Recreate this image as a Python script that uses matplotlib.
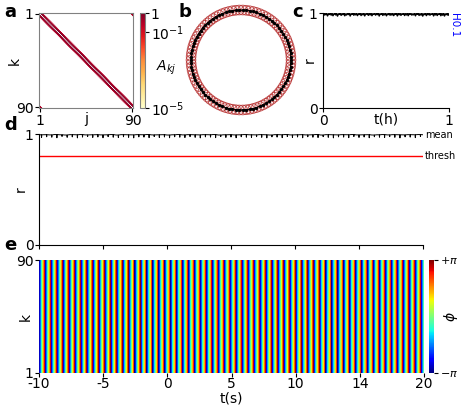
import numpy as np
import matplotlib
matplotlib.use('Agg')
import matplotlib.pyplot as plt
from matplotlib.colors import LogNorm

plt.rcParams['font.family'] = ['DejaVu Sans']
plt.rcParams['font.size'] = 10

# --- data ---
n_nodes = 90
coupling_offsets = [1, 2, 3]       # ring coupling, neighbours on each side
coupling_weights = [1.0, 0.6, 0.25]
thresh = 0.8
stripe_freq_hz = 2.15              # phase stripes in panel e
t_span_s = [-10, 20]
t_ticks = [-10, -5, 0, 5, 10, 15, 20]
t_ticklabels = ['-10', '-5', '0', '5', '10', '14', '20']

r_hours = [0.99, 0.975, 0.998, 0.982, 0.995, 0.970, 0.992, 0.985, 1.000, 0.978,
           0.996, 0.972, 0.989, 0.999, 0.980, 0.994, 0.968, 0.991, 0.986, 0.997,
           0.976, 0.993, 0.983, 1.000, 0.971, 0.990, 0.979, 0.998, 0.984, 0.995,
           0.969, 0.992, 0.987, 0.999, 0.977, 0.994, 0.981, 0.996, 0.973, 0.991,
           0.985, 1.000, 0.974, 0.993, 0.982, 0.997, 0.970, 0.990, 0.988, 0.998,
           0.976, 0.995, 0.980, 0.999, 0.972, 0.992, 0.986, 0.996, 0.978, 0.994,
           0.983, 1.000, 0.969, 0.991, 0.987, 0.997, 0.975, 0.993, 0.981, 0.998,
           0.971, 0.990, 0.984, 0.999, 0.977, 0.995, 0.979, 0.996, 0.973, 0.992,
           0.986, 1.000, 0.970, 0.994, 0.982, 0.997, 0.976, 0.991, 0.988, 0.998,
           0.974, 0.993, 0.980, 0.999, 0.972, 0.995, 0.985, 0.996, 0.978, 0.990,
           0.981, 0.997, 0.971, 0.993, 0.986, 1.000, 0.975, 0.992, 0.979, 0.996,
           0.968, 0.990, 0.984, 0.998, 0.973, 0.994, 0.982, 0.999, 0.977, 0.991,
           0.987, 0.996, 0.970, 0.995, 0.980, 1.000, 0.974, 0.992, 0.985, 0.997,
           0.972, 0.993, 0.978, 0.999, 0.969, 0.990, 0.983, 0.998, 0.976, 0.994]

r_mean_base = [0.993, 0.994, 0.992, 0.995, 0.993, 0.991, 0.994, 0.993, 0.995, 0.992,
               0.993, 0.994, 0.992, 0.993, 0.995, 0.991, 0.994, 0.993, 0.992, 0.994,
               0.993, 0.995, 0.992, 0.993, 0.994, 0.991, 0.993, 0.995, 0.992, 0.994,
               0.993, 0.992, 0.994, 0.993, 0.995, 0.991, 0.993, 0.994, 0.992, 0.993,
               0.995, 0.993, 0.992, 0.994, 0.993, 0.991, 0.994, 0.993, 0.995, 0.992,
               0.993, 0.994, 0.992, 0.993, 0.995, 0.991, 0.994, 0.993, 0.992, 0.994,
               0.993, 0.995, 0.992, 0.993, 0.994, 0.991, 0.993, 0.995, 0.992, 0.994,
               0.993, 0.992, 0.994, 0.993, 0.995]
r_mean_dip = [0.968, 0.975, 0.971, 0.966, 0.978, 0.970, 0.974, 0.965, 0.972, 0.977,
              0.969, 0.973, 0.966, 0.976, 0.971, 0.968, 0.975, 0.970, 0.965, 0.974,
              0.972, 0.967, 0.977, 0.969, 0.973, 0.966, 0.975, 0.971, 0.968, 0.976,
              0.970, 0.965, 0.974, 0.972, 0.967, 0.977, 0.969, 0.973, 0.966, 0.975,
              0.971, 0.968, 0.976, 0.970, 0.965, 0.974, 0.972, 0.967, 0.977, 0.969,
              0.973, 0.966, 0.975, 0.971, 0.968, 0.976, 0.970, 0.965, 0.974, 0.972,
              0.967, 0.977, 0.969, 0.973, 0.966, 0.975, 0.971, 0.968, 0.976, 0.970,
              0.965, 0.974, 0.972, 0.967, 0.977]

# --- derived arrays ---
A = np.zeros((n_nodes, n_nodes))
for k in range(n_nodes):
    for d, w in zip(coupling_offsets, coupling_weights):
        A[k, (k + d) % n_nodes] = w
        A[k, (k - d) % n_nodes] = w
A_masked = np.ma.masked_where(A <= 0, A)

# each sample: flat part, then a narrow downward spike
n_cyc = len(r_mean_base)
cyc_t = np.linspace(t_span_s[0], t_span_s[1], n_cyc + 1)[:-1]
dt = cyc_t[1] - cyc_t[0]
t_mean, r_mean = [], []
for i in range(n_cyc):
    t_mean += [cyc_t[i], cyc_t[i] + 0.45 * dt, cyc_t[i] + 0.5 * dt, cyc_t[i] + 0.55 * dt]
    r_mean += [r_mean_base[i], r_mean_base[i], r_mean_dip[i], r_mean_base[i]]
t_mean.append(t_span_s[1])
r_mean.append(r_mean_base[0])

t_hours = np.linspace(0, 1, len(r_hours))

t_grid = np.linspace(t_span_s[0], t_span_s[1], 3000)
phase_row = np.angle(np.exp(1j * 2 * np.pi * stripe_freq_hz * t_grid))
phase_map = np.tile(phase_row, (n_nodes, 1))

W, H = 463, 413
fig = plt.figure(figsize=(W / 100, H / 100), dpi=100)


def box(x0, y0, x1, y1):
    return [x0 / W, 1 - y1 / H, (x1 - x0) / W, (y1 - y0) / H]


tick_kw = dict(direction='out', length=3, width=0.8, pad=1)

# panel a
ax_a = fig.add_axes(box(39, 13, 133, 108))
cmap_a = plt.get_cmap('YlOrRd').copy()
cmap_a.set_bad('white')
im_a = ax_a.imshow(A_masked, cmap=cmap_a, norm=LogNorm(1e-5, 1),
                   extent=[0.5, n_nodes + 0.5, n_nodes + 0.5, 0.5], aspect='auto')
ax_a.set_xticks([1, n_nodes])
ax_a.set_yticks([1, n_nodes])
ax_a.tick_params(**tick_kw)
ax_a.set_xlabel('j', labelpad=-11)
ax_a.set_ylabel('k', labelpad=-4)
for s in ax_a.spines.values():
    s.set_color('gray')

cax_a = fig.add_axes(box(140, 13, 145, 108))
cb_a = fig.colorbar(im_a, cax=cax_a)
cb_a.set_ticks([1, 1e-1, 1e-5])
cb_a.set_ticklabels(['1', r'$10^{-1}$', r'$10^{-5}$'])
cb_a.minorticks_off()
cax_a.tick_params(direction='out', length=3, width=0.8, pad=1)
cb_a.outline.set_color('gray')
fig.text(166 / W, 1 - 68 / H, r'$A_{kj}$', ha='center', va='center', fontsize=10)

# panel b
ax_b = fig.add_axes(box(184, 3, 298, 117))
ang = np.linspace(0, 2 * np.pi, n_nodes, endpoint=False)
nx, ny = np.cos(ang), np.sin(ang)
for k in range(n_nodes):
    for d in coupling_offsets[:2]:
        j = (k + d) % n_nodes
        ax_b.plot([nx[k], nx[j]], [ny[k], ny[j]], color='black', lw=0.4)
ax_b.scatter(nx, ny, s=48, facecolors='none', edgecolors='#b22222', linewidths=0.7, alpha=0.75)
ax_b.scatter(nx, ny, s=2, color='black')
ax_b.set_xlim(-1.14, 1.14)
ax_b.set_ylim(-1.14, 1.14)
ax_b.set_aspect('equal')
ax_b.axis('off')

# panel c
ax_c = fig.add_axes(box(323, 13, 449, 108))
ax_c.plot(t_hours, r_hours, color='black', lw=1.1)
ax_c.set_xlim(0, 1)
ax_c.set_ylim(0, 1)
ax_c.set_xticks([0, 1])
ax_c.set_yticks([0, 1])
ax_c.set_xticklabels(['0', '1'])
ax_c.set_yticklabels(['0', '1'])
ax_c.tick_params(**tick_kw)
ax_c.spines['top'].set_visible(False)
ax_c.spines['right'].set_visible(False)
ax_c.set_xlabel('t(h)', labelpad=-11)
ax_c.set_ylabel('r', labelpad=-6)
ax_c.text(1.003, 1.0, 'H0.1', color='blue', rotation=-90, fontsize=7.5,
          transform=ax_c.transAxes, ha='left', va='top')

# panel d
ax_d = fig.add_axes(box(39, 134, 423, 245))
ax_d.plot(t_mean, r_mean, color='black', lw=0.7)
ax_d.axhline(thresh, color='red', lw=1)
ax_d.set_xlim(t_span_s)
ax_d.set_ylim(0, 1)
ax_d.set_xticks(t_ticks)
ax_d.set_xticklabels([])
ax_d.set_yticks([0, 1])
ax_d.set_yticklabels(['0', '1'])
ax_d.tick_params(**tick_kw)
ax_d.spines['top'].set_visible(False)
ax_d.spines['right'].set_visible(False)
ax_d.set_ylabel('r', labelpad=-2)
ax_d.text(1.005, 0.995, 'mean', transform=ax_d.transAxes, fontsize=7, va='center', ha='left')
ax_d.text(1.005, thresh, 'thresh', transform=ax_d.transAxes, fontsize=7, va='center', ha='left')

# panel e
ax_e = fig.add_axes(box(39, 260, 424, 373))
im_e = ax_e.imshow(phase_map, cmap='jet', vmin=-np.pi, vmax=np.pi, aspect='auto',
                   origin='lower', interpolation='nearest',
                   extent=[t_span_s[0], t_span_s[1], 1, n_nodes])
ax_e.set_xticks(t_ticks)
ax_e.set_xticklabels(t_ticklabels)
ax_e.set_yticks([1, n_nodes])
ax_e.tick_params(**tick_kw)
ax_e.tick_params(axis='x', pad=0)
ax_e.set_xlabel('t(s)', labelpad=0)
ax_e.set_ylabel('k', labelpad=-12)
for s in ax_e.spines.values():
    s.set_visible(False)

cax_e = fig.add_axes(box(429, 260, 434, 373))
cb_e = fig.colorbar(im_e, cax=cax_e)
cb_e.set_ticks([-np.pi, np.pi])
cb_e.set_ticklabels([r'$-\pi$', r'$+\pi$'])
cax_e.tick_params(direction='out', length=3, width=0.8, pad=1, labelsize=8)
cb_e.outline.set_visible(False)
cb_e.set_label(r'$\phi$', labelpad=-11)

# panel letters
for lab, x, y in [('a', 4, 12), ('b', 178, 12), ('c', 292, 12), ('d', 4, 125), ('e', 4, 245)]:
    fig.text(x / W, 1 - y / H, lab, fontsize=13, fontweight='bold', va='center', ha='left')

fig.savefig('out.png', dpi=100)
